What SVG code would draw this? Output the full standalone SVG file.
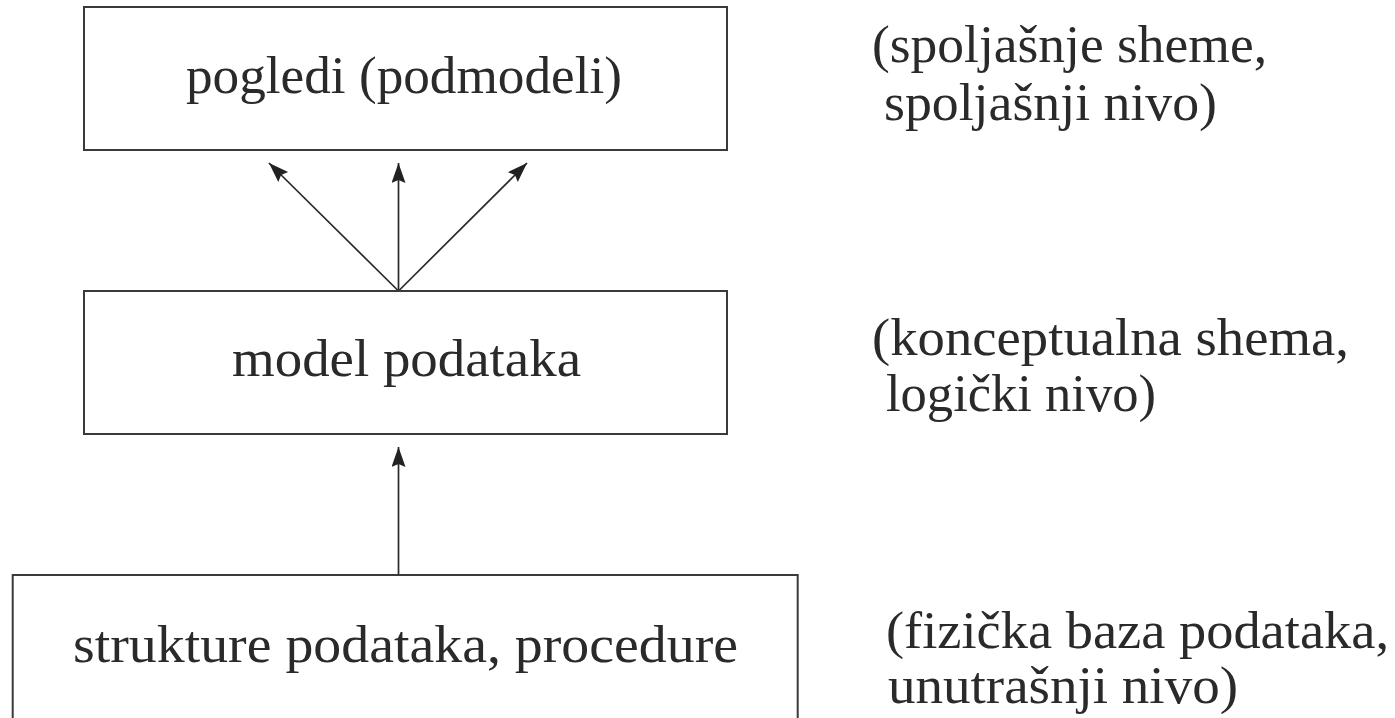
<svg xmlns="http://www.w3.org/2000/svg" width="1395" height="718" viewBox="0 0 1395 718">
<style>
.box{fill:#fff;stroke:#3a3a3a;stroke-width:2}
.lbl{font-family:"Liberation Serif","Times New Roman",serif;font-size:52px;fill:#2a2a2a}
.con{stroke:#2a2a2a;stroke-width:1.7;fill:none}
</style>
<defs>
<marker id="ah" markerUnits="userSpaceOnUse" markerWidth="22" markerHeight="16" refX="20" refY="7" orient="auto" viewBox="0 0 22 16">
<path d="M0,0 L20,7 L0,14 L3,7 z" fill="#222"/>
</marker>
</defs>
<rect width="1395" height="718" fill="#fff"/>
<g id="connectors">
<line class="con" x1="398.5" y1="291" x2="269" y2="163" marker-end="url(#ah)"/>
<line class="con" x1="398.5" y1="291" x2="398.5" y2="163" marker-end="url(#ah)"/>
<line class="con" x1="398.5" y1="291" x2="527" y2="163" marker-end="url(#ah)"/>
<line class="con" x1="398.5" y1="575" x2="398.5" y2="447" marker-end="url(#ah)"/>
</g>
<g id="node-pogledi">
<rect class="box" x="84" y="7" width="643" height="143"/>
<text class="lbl" x="186" y="93" textLength="436" lengthAdjust="spacingAndGlyphs">pogledi (podmodeli)</text>
</g>
<g id="node-model">
<rect class="box" x="84" y="291" width="643" height="143"/>
<text class="lbl" x="232" y="376" textLength="349" lengthAdjust="spacingAndGlyphs">model podataka</text>
</g>
<g id="node-strukture">
<rect class="box" x="12.7" y="575" width="785" height="160"/>
<text class="lbl" x="73" y="662" textLength="665" lengthAdjust="spacingAndGlyphs">strukture podataka, procedure</text>
</g>
<g id="label-spoljasnji">
<text class="lbl" x="872" y="62" textLength="395" lengthAdjust="spacingAndGlyphs">(spoljašnje sheme,</text>
<text class="lbl" x="884" y="120" textLength="333" lengthAdjust="spacingAndGlyphs">spoljašnji nivo)</text>
</g>
<g id="label-logicki">
<text class="lbl" x="872" y="355" textLength="477" lengthAdjust="spacingAndGlyphs">(konceptualna shema,</text>
<text class="lbl" x="886" y="411" textLength="270" lengthAdjust="spacingAndGlyphs">logički nivo)</text>
</g>
<g id="label-unutrasnji">
<text class="lbl" x="886" y="648" textLength="503" lengthAdjust="spacingAndGlyphs">(fizička baza podataka,</text>
<text class="lbl" x="888" y="703" textLength="350" lengthAdjust="spacingAndGlyphs">unutrašnji nivo)</text>
</g>
</svg>
